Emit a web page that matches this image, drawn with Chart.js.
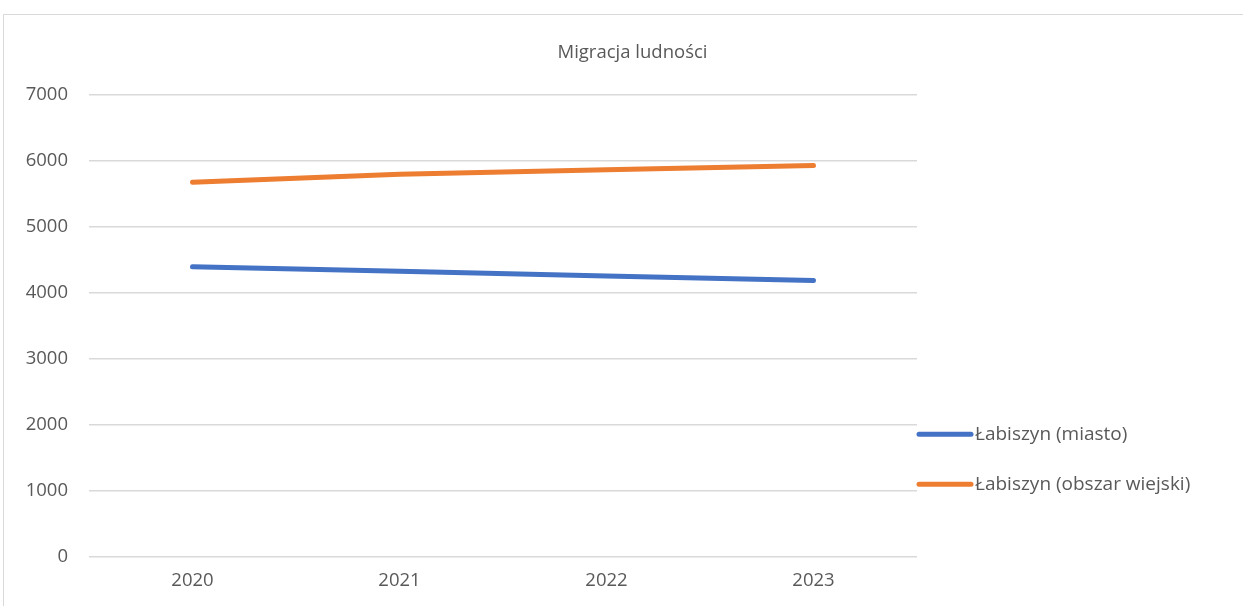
<!DOCTYPE html>
<html>
<head>
<meta charset="utf-8">
<script src="https://cdn.jsdelivr.net/npm/chart.js@4"></script>
<style>
html,body{margin:0;padding:0;background:#fff;overflow:hidden;}
#wrap{position:absolute;left:0;top:0;width:1243px;height:606px;}
#frame{position:absolute;left:3px;top:14px;width:1400px;height:800px;border:1px solid #d9d9d9;box-sizing:border-box;}
canvas{position:absolute;left:0;top:0;}
</style>
</head>
<body>
<div id="wrap">
<div id="frame"></div>
<canvas id="c" width="1243" height="606"></canvas>
</div>
<script>
const categories = ['2020', '2021', '2022', '2023'];
const miasto = [4400, 4330, 4260, 4190];
const obszarWiejski = [5680, 5800, 5870, 5935];
const seriesLabels = ['Łabiszyn (miasto)', 'Łabiszyn (obszar wiejski)'];
const yTicks = [0, 1000, 2000, 3000, 4000, 5000, 6000, 7000];
const titleText = 'Migracja ludności';

const FONT = "'Open Sans', sans-serif";
const TEXT = '#595959';
const FS = 18.5;

const legendPlugin = {
  id: 'customLegend',
  afterDraw(chart) {
    const ctx = chart.ctx;
    const a = chart.chartArea;
    ctx.save();
    chart.data.datasets.forEach((ds, i) => {
      const y = a.top + 339 + i * 50;
      const x0 = a.right + 2;
      ctx.strokeStyle = ds.borderColor;
      ctx.lineWidth = 5;
      ctx.lineCap = 'round';
      ctx.beginPath();
      ctx.moveTo(x0, y);
      ctx.lineTo(x0 + 52, y);
      ctx.stroke();
      ctx.fillStyle = TEXT;
      ctx.font = "19px " + FONT;
      ctx.textBaseline = 'middle';
      ctx.textAlign = 'left';
      ctx.fillText(ds.label, x0 + 56, y);
    });
    ctx.restore();
  }
};

new Chart(document.getElementById('c'), {
  type: 'line',
  data: {
    labels: categories,
    datasets: [
      { label: seriesLabels[0], data: miasto, borderColor: '#4472C4', backgroundColor: '#4472C4',
        borderWidth: 5, pointRadius: 0, borderCapStyle: 'round', borderJoinStyle: 'round', tension: 0 },
      { label: seriesLabels[1], data: obszarWiejski, borderColor: '#ED7D31', backgroundColor: '#ED7D31',
        borderWidth: 5, pointRadius: 0, borderCapStyle: 'round', borderJoinStyle: 'round', tension: 0 }
    ]
  },
  options: {
    responsive: false,
    animation: false,
    devicePixelRatio: 1,
    layout: { padding: { left: 22, right: 0, top: 0, bottom: 0 } },
    plugins: {
      legend: { display: false },
      tooltip: { enabled: false },
      title: {
        display: true,
        text: titleText,
        color: TEXT,
        font: { family: FONT, size: FS, weight: 'normal', lineHeight: 1.2 },
        padding: { top: 42, bottom: 31 }
      }
    },
    scales: {
      x: {
        offset: true,
        grid: { display: false, drawTicks: false },
        border: { display: false },
        ticks: { color: TEXT, font: { family: FONT, size: FS }, padding: 13 },
        afterFit(s) { s.height = 49; }
      },
      y: {
        min: 0, max: 7000,
        afterBuildTicks(s) { s.ticks = yTicks.map(v => ({ value: v })); },
        grid: { color: '#d9d9d9', lineWidth: 1.5, drawTicks: false },
        border: { display: false },
        ticks: { color: TEXT, font: { family: FONT, size: FS }, padding: 21,
                 callback: v => String(v) },
        afterFit(s) { s.width = 67; }
      },
      y2: {
        position: 'right',
        display: true,
        grid: { display: false, drawTicks: false },
        border: { display: false },
        ticks: { display: false },
        afterFit(s) { s.width = 326; }
      }
    }
  },
  plugins: [legendPlugin]
});
</script>
</body>
</html>
